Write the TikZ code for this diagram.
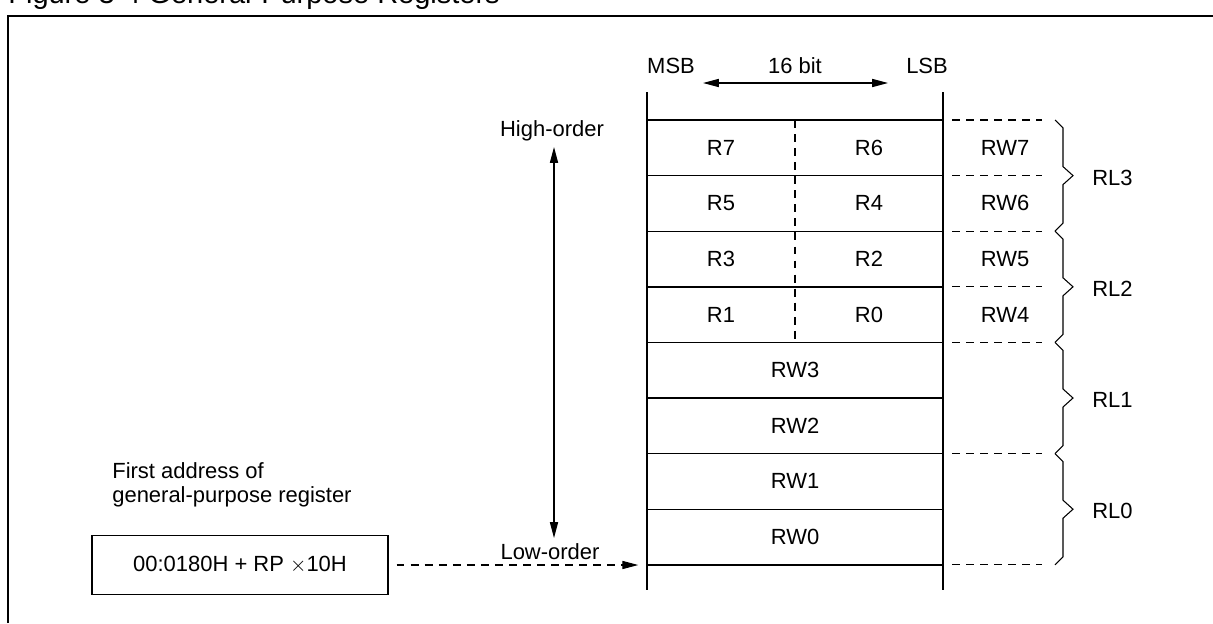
\documentclass[tikz,border=0pt]{standalone}
\usepackage{fontspec}
\setmainfont{Liberation Sans}
\usetikzlibrary{positioning,calc,arrows.meta}
\tikzset{
  lbl/.style    ={font=\fontsize{12.5}{15}\selectfont, inner sep=0pt},
  ttl/.style    ={font=\fontsize{16.5}{19}\selectfont, inner sep=0pt},
  reg/.style    ={line width=0.8pt},
  dashl/.style  ={line width=0.6pt, dash pattern=on 4.5pt off 3.5pt},
  % both ends filled
  arr/.style    ={{Triangle[length=9pt,width=4.6pt]}-{Triangle[length=9pt,width=4.6pt]}, line width=0.7pt},
  ptr/.style    ={-{Triangle[length=9pt,width=4.6pt]}, dashl},
  addrbox/.style={draw, line width=0.8pt, minimum width=5.92cm, minimum height=1.18cm,
                  lbl},
  brc/.style    ={line width=0.6pt},
}

\begin{document}
\begin{tikzpicture}[x=0.02cm, y=-0.02cm]
    \useasboundingbox (0,0) rectangle (1213,623);
    % title and frame
    \node[ttl, anchor=base west] (title) at (8,3) {Figure 3-4 General-Purpose Registers};
    \draw[line width=1pt] (8,623) |- (1213,16);
    % register stack
    \draw[reg] (647,92) -- (647,590);
    \draw[reg] (943,92) -- (943,590);
    \foreach \i in {0,...,8}
      \draw[reg] (647,120+\i*55.6) -- (943,120+\i*55.6);
    \draw[dashl] (795,120) -- (795,342.4);
    % byte rows
    \foreach \hi/\lo/\w [count=\i from 0] in {R7/R6/RW7,R5/R4/RW6,R3/R2/RW5,R1/R0/RW4} {
      \node[lbl] (\hi) at (721,147.8+\i*55.6) {\hi};
      \node[lbl] (\lo) at (869,147.8+\i*55.6) {\lo};
      \node[lbl] (\w)  at (1005,147.8+\i*55.6) {\w};
    }
    % word rows
    \foreach \w [count=\i from 4] in {RW3,RW2,RW1,RW0}
      \node[lbl] (\w) at (795,147.8+\i*55.6) {\w};
    % right side: dashed extensions and braces
    \foreach \i in {0,1,2,3,4,6,8}
      \draw[dashl] (952,120+\i*55.6) -- (1042,120+\i*55.6);
    \foreach \n [count=\j from 0] in {RL3,RL2,RL1,RL0} {
      \pgfmathsetmacro\ya{120+\j*111.2}
      \pgfmathsetmacro\ym{\ya+55.6}
      \pgfmathsetmacro\yb{\ya+111.2}
      \draw[brc] (1055,\ya) -- (1063,\ya+8) -- (1063,\ym-9) -- (1073,\ym)
                 -- (1063,\ym+9) -- (1063,\yb-8) -- (1055,\yb);
      \node[lbl, anchor=west] (\n) at (1092,\ym+2) {\n};
    }
    % width
    \node[lbl] (msb)  at (671,66) {MSB};
    \node[lbl] (lsb)  at (927,66) {LSB};
    \node[lbl] (bits) at (795,66) {16 bit};
    \coordinate (wl) at (703,83);
    \coordinate (wr) at (888,83);
    \draw[arr] (wl) -- (wr);
    % order
    \node[lbl] (high) at (552,131) {High-order};
    \node[lbl] (low)  at (550,552) {Low-order};
    \coordinate (ht) at (554,147);
    \coordinate (lt) at (554,538);
    \draw[arr] (ht) -- (lt);
    % first address
    \node[lbl, anchor=west] (note1) at (112,471) {First address of};
    \node[lbl, anchor=west] (note2) at (112,497) {general-purpose register};
    \node[addrbox] (addr) at (240,565) {00:0180H + RP $\times$10H};
    \coordinate (base) at (647,565);
    \draw[ptr, shorten <=4.5pt, shorten >=5pt] (addr.east) -- (base);
  \end{tikzpicture}
\end{document}
